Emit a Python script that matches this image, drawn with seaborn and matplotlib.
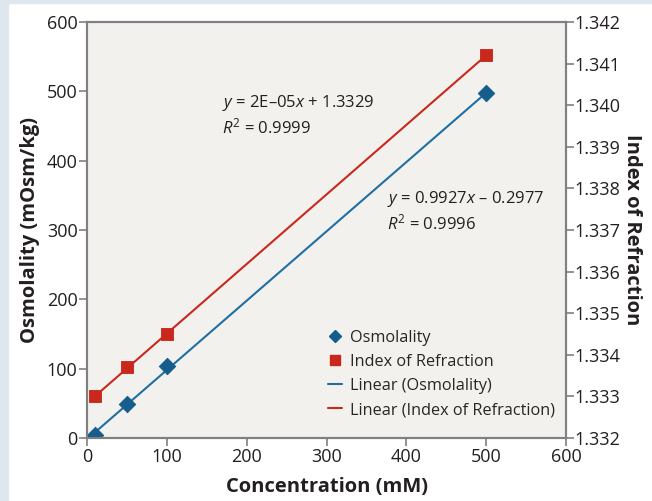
import numpy as np
import pandas as pd
import matplotlib
matplotlib.use("Agg")
import matplotlib.pyplot as plt
from matplotlib.lines import Line2D
from matplotlib.patches import Rectangle
import seaborn as sns

# data
concentration = [10, 50, 100, 500]
osmolality = [4, 49, 103, 497]
refraction = [1.3330, 1.3337, 1.3345, 1.3412]

blue = "#155d8c"
blue_line = "#1f6fa3"
red = "#c9281d"
gray = "#808080"
dark = "#231f20"

sns.set_theme(style="white")
plt.rcParams["font.family"] = ["Open Sans", "DejaVu Sans"]
plt.rcParams["mathtext.fontset"] = "custom"
plt.rcParams["mathtext.it"] = "Open Sans:italic"
plt.rcParams["mathtext.rm"] = "Open Sans"

df = pd.DataFrame({"Concentration": concentration,
                   "Osmolality": osmolality,
                   "Refraction": refraction})

fig = plt.figure(figsize=(6.52, 5.01), dpi=100, facecolor="white")
# light strips at the left and top edge of the figure
fig.patches.append(Rectangle((0, 0), 8 / 652, 1, transform=fig.transFigure,
                             color="#dfe7ee", zorder=0))
fig.patches.append(Rectangle((0, 1 - 3 / 501), 1, 3 / 501, transform=fig.transFigure,
                             color="#dfe7ee", zorder=0))

ax = fig.add_axes([0.134, 0.126, 0.734, 0.830])
ax.set_facecolor("#f2f1ed")
ax2 = ax.twinx()

sns.regplot(data=df, x="Concentration", y="Osmolality", ax=ax, scatter=False,
            ci=None, line_kws={"color": blue_line, "lw": 1.5})
sns.scatterplot(data=df, x="Concentration", y="Osmolality", ax=ax, marker="D",
                color=blue, s=70, edgecolor=blue, zorder=5)

sns.regplot(data=df, x="Concentration", y="Refraction", ax=ax2, scatter=False,
            ci=None, line_kws={"color": red, "lw": 1.5})
sns.scatterplot(data=df, x="Concentration", y="Refraction", ax=ax2, marker="s",
                color=red, s=65, edgecolor=red, zorder=5)

ax.set_xlim(0, 600)
ax.set_ylim(0, 600)
ax2.set_ylim(1.332, 1.342)
ax.set_xticks(range(0, 601, 100))
ax.set_yticks(range(0, 601, 100))
ax2.set_yticks(np.round(np.arange(1.332, 1.3421, 0.001), 3))
ax2.set_yticklabels([f"{v:.3f}" for v in np.arange(1.332, 1.3421, 0.001)])

for a in (ax, ax2):
    for s in a.spines.values():
        s.set_color(gray)
        s.set_linewidth(1.5)
    a.tick_params(colors=gray, labelcolor=dark, labelsize=13,
                  length=6, width=1.2, direction="out", pad=1)
ax.tick_params(bottom=True, left=True)
ax2.tick_params(right=True, pad=0)

ax.set_xlabel("Concentration (mM)", fontsize=14.5, fontweight="bold",
              color=dark, labelpad=8)
ax.set_ylabel("Osmolality (mOsm/kg)", fontsize=14.5, fontweight="bold",
              color=dark, labelpad=5)
ax2.set_ylabel("Index of Refraction", fontsize=14.5, fontweight="bold",
               color=dark, rotation=270, labelpad=16)

ax.text(169, 483, r"$y$ = 2E–05$x$ + 1.3329", fontsize=12, color=dark, va="center")
ax.text(169, 448, r"$R^{2}$ = 0.9999", fontsize=12, color=dark, va="center")
ax.text(376, 345, r"$y$ = 0.9927$x$ – 0.2977", fontsize=12, color=dark, va="center")
ax.text(376, 310, r"$R^{2}$ = 0.9996", fontsize=12, color=dark, va="center")

handles = [
    Line2D([], [], marker="D", color=blue, ls="none", markersize=6.5),
    Line2D([], [], marker="s", color=red, ls="none", markersize=6.5),
    Line2D([], [], color=blue_line, lw=1.5),
    Line2D([], [], color=red, lw=1.5),
]
labels = ["Osmolality", "Index of Refraction", "Linear (Osmolality)",
          "Linear (Index of Refraction)"]
ax2.legend(handles, labels, loc="lower right", bbox_to_anchor=(1.0, 0.02),
           frameon=False, fontsize=11.7, handlelength=0.9, handletextpad=0.45,
           labelspacing=0.5, borderaxespad=0.3)

fig.savefig("out.png", dpi=100, facecolor=fig.get_facecolor())
